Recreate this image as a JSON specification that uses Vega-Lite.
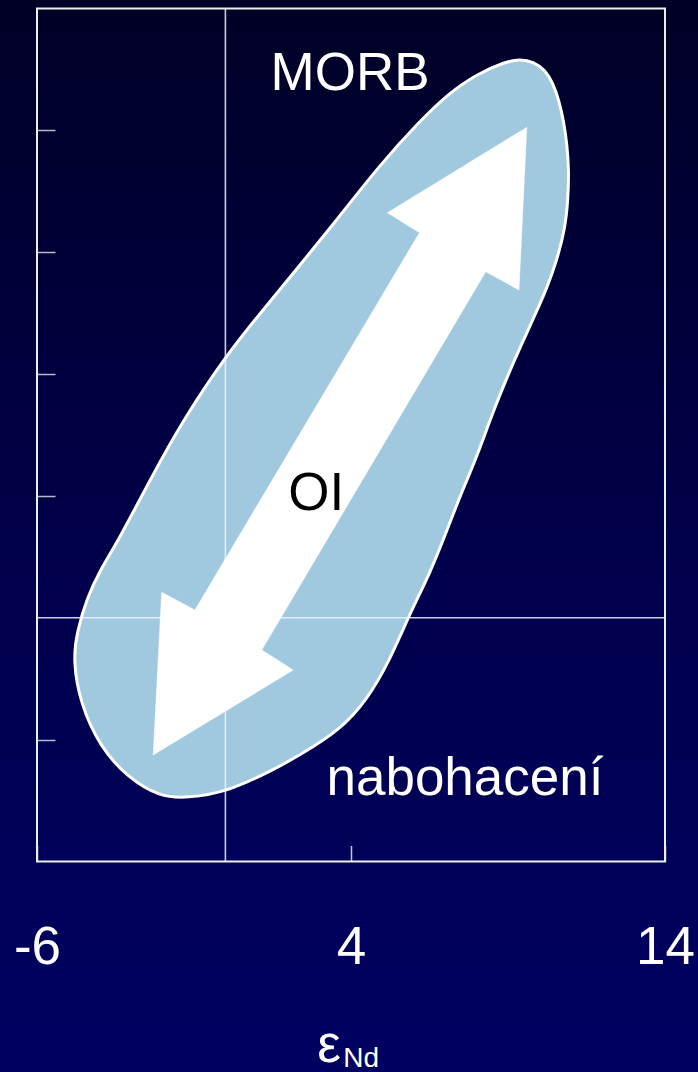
{
  "$schema": "https://vega.github.io/schema/vega-lite/v6.json",
  "width": 698,
  "height": 1072,
  "autosize": "none",
  "padding": 0,
  "background": "#00004a",
  "config": {
    "view": {
      "stroke": null,
      "fill": {
        "gradient": "linear",
        "x1": 0, "y1": 0, "x2": 0, "y2": 1,
        "stops": [
          {"offset": 0, "color": "#000026"},
          {"offset": 0.5, "color": "#00004a"},
          {"offset": 1, "color": "#000062"}
        ]
      }
    },
    "text": {"font": "Liberation Sans"}
  },
  "datasets": {
    "blob": [
      {"i": 1, "x": 8.90, "y": 6.561},
      {"i": 2, "x": 9.38, "y": 6.585},
      {"i": 3, "x": 9.83, "y": 6.561},
      {"i": 4, "x": 10.18, "y": 6.495},
      {"i": 5, "x": 10.43, "y": 6.388},
      {"i": 6, "x": 10.62, "y": 6.249},
      {"i": 7, "x": 10.78, "y": 6.068},
      {"i": 8, "x": 10.88, "y": 5.880},
      {"i": 9, "x": 10.94, "y": 5.675},
      {"i": 10, "x": 10.91, "y": 5.428},
      {"i": 11, "x": 10.82, "y": 5.199},
      {"i": 12, "x": 10.56, "y": 4.936},
      {"i": 13, "x": 10.24, "y": 4.706},
      {"i": 14, "x": 9.86, "y": 4.485},
      {"i": 15, "x": 9.38, "y": 4.214},
      {"i": 16, "x": 9.00, "y": 3.992},
      {"i": 17, "x": 8.52, "y": 3.689},
      {"i": 18, "x": 7.97, "y": 3.295},
      {"i": 19, "x": 7.55, "y": 3.049},
      {"i": 20, "x": 7.06, "y": 2.720},
      {"i": 21, "x": 6.52, "y": 2.367},
      {"i": 22, "x": 5.88, "y": 2.039},
      {"i": 23, "x": 5.24, "y": 1.654},
      {"i": 24, "x": 4.51, "y": 1.325},
      {"i": 25, "x": 3.65, "y": 1.079},
      {"i": 26, "x": 2.38, "y": 0.874},
      {"i": 27, "x": 1.52, "y": 0.751},
      {"i": 28, "x": 0.05, "y": 0.570},
      {"i": 29, "x": -1.22, "y": 0.521},
      {"i": 30, "x": -2.08, "y": 0.529},
      {"i": 31, "x": -3.13, "y": 0.693},
      {"i": 32, "x": -3.99, "y": 0.940},
      {"i": 33, "x": -4.63, "y": 1.301},
      {"i": 34, "x": -4.85, "y": 1.654},
      {"i": 35, "x": -4.73, "y": 1.883},
      {"i": 36, "x": -4.41, "y": 2.162},
      {"i": 37, "x": -3.99, "y": 2.392},
      {"i": 38, "x": -3.45, "y": 2.614},
      {"i": 39, "x": -2.40, "y": 3.131},
      {"i": 40, "x": -1.35, "y": 3.623},
      {"i": 41, "x": 0.08, "y": 4.173},
      {"i": 42, "x": 1.20, "y": 4.526},
      {"i": 43, "x": 2.25, "y": 4.854},
      {"i": 44, "x": 3.62, "y": 5.289},
      {"i": 45, "x": 4.92, "y": 5.716},
      {"i": 46, "x": 6.13, "y": 6.060},
      {"i": 47, "x": 7.12, "y": 6.306},
      {"i": 48, "x": 8.01, "y": 6.462}
    ],
    "arrow": [
      {"i": 1, "x": 9.60, "y": 6.025},
      {"i": 2, "x": 9.35, "y": 4.690},
      {"i": 3, "x": 8.29, "y": 4.840},
      {"i": 4, "x": 1.16, "y": 1.736},
      {"i": 5, "x": 2.16, "y": 1.571},
      {"i": 6, "x": -2.30, "y": 0.874},
      {"i": 7, "x": -2.03, "y": 2.209},
      {"i": 8, "x": -0.97, "y": 2.064},
      {"i": 9, "x": 6.18, "y": 5.160},
      {"i": 10, "x": 5.16, "y": 5.324}
    ],
    "lines": [
      {"x": 0, "y": 0, "x2": 0, "y2": 7},
      {"x": -6, "y": 2, "x2": 14, "y2": 2}
    ],
    "frame": [
      {"x": -6, "y": 0, "x2": 14, "y2": 7}
    ],
    "bigText": [
      {"x": 3.97, "y": 6.33, "t": "MORB"},
      {"x": 7.63, "y": 0.546, "t": "nabohacení"},
      {"x": 3.30, "y": -1.645, "t": "ε"}
    ],
    "blackText": [
      {"x": 2.89, "y": 2.885, "t": "OI"}
    ],
    "smallText": [
      {"x": 4.32, "y": -1.686, "t": "Nd"}
    ]
  },
  "encoding": {
    "x": {
      "field": "x", "type": "quantitative",
      "scale": {"domain": [-7.1783, 15.051], "nice": false, "zero": false},
      "axis": {
        "orient": "bottom", "offset": -210.5, "values": [-6, 4, 14],
        "domain": false, "grid": false, "title": null,
        "ticks": true, "tickSize": -16, "tickColor": "#c8c8d8", "tickWidth": 1.5,
        "labelExpr": "toString(datum.value)",
        "labelFont": "Liberation Sans", "labelFontSize": 53, "labelColor": "#ffffff",
        "labelPadding": 118, "labelBaseline": "alphabetic", "labelFlush": false, "labelOverlap": false
      }
    },
    "y": {
      "field": "y", "type": "quantitative",
      "scale": {"domain": [-1.7274, 7.0696], "nice": false, "zero": false},
      "axis": {
        "orient": "left", "offset": -37, "values": [1, 3, 4, 5, 6],
        "domain": false, "grid": false, "title": null, "labels": false,
        "ticks": true, "tickSize": -18, "tickColor": "#b8b8cc", "tickWidth": 1.5
      }
    }
  },
  "layer": [
    {
      "data": {"name": "blob"},
      "mark": {"type": "line", "interpolate": "basis-closed", "fill": "#a0c8de", "fillOpacity": 1, "stroke": "#ffffff", "strokeWidth": 3},
      "encoding": {"order": {"field": "i", "type": "quantitative"}}
    },
    {
      "data": {"name": "lines"},
      "mark": {"type": "rule", "stroke": "#eef2fa", "strokeWidth": 1.6, "opacity": 0.85},
      "encoding": {
        "x2": {"field": "x2"},
        "y2": {"field": "y2"}
      }
    },
    {
      "data": {"name": "arrow"},
      "mark": {"type": "line", "interpolate": "linear-closed", "fill": "#ffffff", "fillOpacity": 1, "stroke": "#ffffff", "strokeWidth": 0.5},
      "encoding": {"order": {"field": "i", "type": "quantitative"}}
    },
    {
      "data": {"name": "frame"},
      "mark": {"type": "rect", "fill": null, "fillOpacity": 0, "stroke": "#eeeef6", "strokeWidth": 2},
      "encoding": {
        "x2": {"field": "x2"},
        "y2": {"field": "y2"}
      }
    },
    {
      "data": {"name": "bigText"},
      "mark": {"type": "text", "fontSize": 53, "color": "#ffffff", "align": "center", "baseline": "alphabetic", "font": "Liberation Sans"},
      "encoding": {"text": {"field": "t"}}
    },
    {
      "data": {"name": "blackText"},
      "mark": {"type": "text", "fontSize": 53, "color": "#000000", "align": "center", "baseline": "alphabetic", "font": "Liberation Sans"},
      "encoding": {"text": {"field": "t"}}
    },
    {
      "data": {"name": "smallText"},
      "mark": {"type": "text", "fontSize": 28, "color": "#ffffff", "align": "center", "baseline": "alphabetic", "font": "Liberation Sans"},
      "encoding": {"text": {"field": "t"}}
    }
  ]
}
